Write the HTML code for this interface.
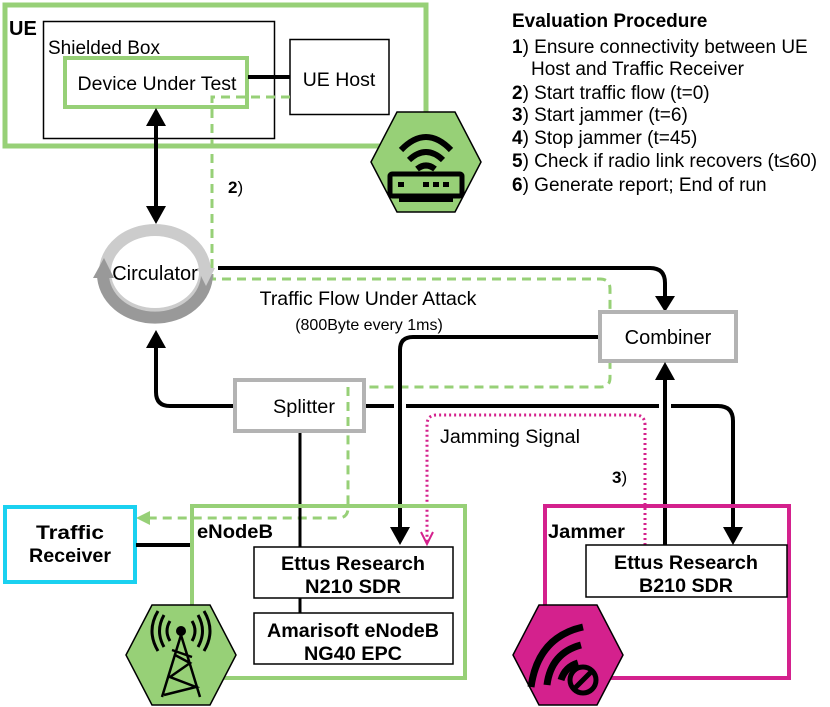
<!DOCTYPE html>
<html><head><meta charset="utf-8"><style>
body{margin:0;background:#fff}
svg{display:block;font-family:"Liberation Sans",sans-serif}
</style></head><body>
<svg width="830" height="707" viewBox="0 0 830 707">
<!-- UE -->
<rect x="5" y="5" width="421" height="141" fill="none" stroke="#97d077" stroke-width="5"/>
<text x="9" y="35" font-size="20" font-weight="bold">UE</text>
<rect x="43.5" y="21.5" width="231" height="117" fill="none" stroke="#000" stroke-width="1.5"/>
<text x="48" y="54" font-size="19">Shielded Box</text>
<rect x="65" y="58" width="182" height="49" fill="#fff" stroke="#97d077" stroke-width="4"/>
<text x="157" y="90" font-size="19.5" text-anchor="middle">Device Under Test</text>
<rect x="290" y="39.5" width="99" height="75" fill="#fff" stroke="#000" stroke-width="1.5"/>
<text x="339" y="86" font-size="19.5" text-anchor="middle">UE Host</text>
<line x1="248" y1="77" x2="290" y2="77" stroke="#000" stroke-width="4"/>
<!-- green dashed -->
<path d="M290,97 H212 V279 H600 Q610,279 610,289 V378 Q610,387 600,387 H358 Q348,387 348,397 V508 Q348,518 338,518 H148" fill="none" stroke="#97d077" stroke-width="3" stroke-dasharray="9,6"/>
<path d="M136,518 L150,511 L150,525z" fill="#97d077"/>
<text x="228" y="193" font-size="17" font-weight="bold">2<tspan font-weight="normal">)</tspan></text>
<!-- double arrow -->
<line x1="156" y1="120" x2="156" y2="212" stroke="#000" stroke-width="4"/>
<path d="M146,126 L156,108 L166,126z M146,206 L156,224 L166,206z" fill="#000"/>
<!-- circulator -->
<ellipse cx="155" cy="272" rx="50" ry="42" fill="none" stroke="#cccccc" stroke-width="12"/>
<path d="M103,274 A50,42 0 0 0 207,274" fill="none" stroke="#999" stroke-width="12"/>
<path d="M93,278 L104,258 L114,278z" fill="#999"/>
<path d="M197,268 L206,286 L215,268z" fill="#ccc"/>
<text x="155" y="280" font-size="20" text-anchor="middle">Circulator</text>
<text x="368" y="305" font-size="19.5" text-anchor="middle">Traffic Flow Under Attack</text>
<text x="369" y="330" font-size="16" text-anchor="middle">(800Byte every 1ms)</text>
<!-- black lines -->
<path d="M218,268 H650 Q665,268 665,283 V298" fill="none" stroke="#000" stroke-width="4"/>
<path d="M655,296 L665,312 L675,296z" fill="#000"/>
<rect x="600" y="312" width="136" height="49" fill="#fff" stroke="#b3b3b3" stroke-width="4"/>
<text x="668" y="344" font-size="20" text-anchor="middle">Combiner</text>
<path d="M598,337 H413 Q400,337 400,350 V530" fill="none" stroke="#000" stroke-width="4"/>
<path d="M390,527 L400,545 L410,527z" fill="#000"/>
<path d="M235,406 H170 Q156,406 156,392 V346" fill="none" stroke="#000" stroke-width="4"/>
<path d="M146,348 L156,330 L166,348z" fill="#000"/>
<path d="M365,406 H394 M406,406 H659 M671,406 H718 Q733,406 733,421 V530" fill="none" stroke="#000" stroke-width="4"/>
<path d="M723,527 L733,545 L743,527z" fill="#000"/>
<line x1="665" y1="545" x2="665" y2="378" stroke="#000" stroke-width="4"/>
<path d="M655,380 L665,362 L675,380z" fill="#000"/>
<line x1="300" y1="432" x2="300" y2="547" stroke="#000" stroke-width="3"/>
<rect x="235" y="380" width="129" height="51" fill="#fff" stroke="#b3b3b3" stroke-width="4"/>
<text x="304" y="413" font-size="19" text-anchor="middle" textLength="62" lengthAdjust="spacingAndGlyphs">Splitter</text>
<line x1="348" y1="387" x2="348" y2="431" stroke="#97d077" stroke-width="3" stroke-dasharray="9,6"/>
<!-- pink dotted -->
<path d="M645,545 V425 Q645,415 635,415 H437 Q427,415 427,425 V542" fill="none" stroke="#d4218d" stroke-width="3" stroke-dasharray="2,3"/>
<path d="M421,532 L427,544 L433,532" fill="none" stroke="#d4218d" stroke-width="2"/>
<text x="440" y="443" font-size="19" textLength="140" lengthAdjust="spacingAndGlyphs">Jamming Signal</text>
<text x="612" y="483" font-size="17" font-weight="bold">3<tspan font-weight="normal">)</tspan></text>
<!-- traffic receiver -->
<rect x="5" y="507" width="130" height="75" fill="#fff" stroke="#1ad1f0" stroke-width="4"/>
<text x="70" y="539" font-size="19.5" font-weight="bold" text-anchor="middle" textLength="68" lengthAdjust="spacingAndGlyphs">Traffic</text>
<text x="70" y="562" font-size="19.5" font-weight="bold" text-anchor="middle" textLength="82" lengthAdjust="spacingAndGlyphs">Receiver</text>
<line x1="136" y1="545" x2="190" y2="545" stroke="#000" stroke-width="4"/>
<!-- eNodeB -->
<rect x="192" y="506" width="273" height="172" fill="none" stroke="#97d077" stroke-width="4"/>
<text x="197" y="538" font-size="19" font-weight="bold" textLength="76" lengthAdjust="spacingAndGlyphs">eNodeB</text>
<rect x="254" y="547" width="199" height="51" fill="#fff" stroke="#000" stroke-width="1.5"/>
<text x="353" y="570" font-size="19" font-weight="bold" text-anchor="middle" textLength="144" lengthAdjust="spacingAndGlyphs">Ettus Research</text>
<text x="353" y="593" font-size="19" font-weight="bold" text-anchor="middle" textLength="96" lengthAdjust="spacingAndGlyphs">N210 SDR</text>
<line x1="300" y1="598" x2="300" y2="613" stroke="#000" stroke-width="3"/>
<rect x="254" y="613" width="199" height="51" fill="#fff" stroke="#000" stroke-width="1.5"/>
<text x="353" y="637" font-size="19" font-weight="bold" text-anchor="middle" textLength="172" lengthAdjust="spacingAndGlyphs">Amarisoft eNodeB</text>
<text x="353" y="660" font-size="19" font-weight="bold" text-anchor="middle" textLength="98" lengthAdjust="spacingAndGlyphs">NG40 EPC</text>
<!-- Jammer -->
<rect x="545" y="506" width="244" height="172" fill="none" stroke="#d4218d" stroke-width="4"/>
<text x="548" y="538" font-size="19" font-weight="bold" textLength="77" lengthAdjust="spacingAndGlyphs">Jammer</text>
<rect x="586" y="545" width="201" height="52" fill="#fff" stroke="#000" stroke-width="1.5"/>
<text x="686" y="569" font-size="19" font-weight="bold" text-anchor="middle" textLength="144" lengthAdjust="spacingAndGlyphs">Ettus Research</text>
<text x="686" y="592" font-size="19" font-weight="bold" text-anchor="middle" textLength="94" lengthAdjust="spacingAndGlyphs">B210 SDR</text>
<!-- hexagons -->
<g transform="translate(371,112)">
<path d="M0,50 L26,0 L84,0 L110,50 L84,100 L26,100z" fill="#97d077" stroke="#000" stroke-width="1.5"/>
<path d="M30,38 Q55,12 80,38 M38,48 Q55,32 72,48 M46,57 Q55,50 64,57" fill="none" stroke="#000" stroke-width="6"/>
<rect x="19" y="62" width="72" height="22" rx="2" fill="none" stroke="#000" stroke-width="5"/>
<rect x="27" y="70" width="6" height="5"/><rect x="52" y="70" width="6" height="5"/><rect x="62" y="70" width="6" height="5"/><rect x="72" y="70" width="6" height="5"/>
<rect x="28" y="84" width="54" height="6"/>
</g>
<g transform="translate(126,605)">
<path d="M0,50 L26,0 L84,0 L110,50 L84,100 L26,100z" fill="#97d077" stroke="#000" stroke-width="1.5"/>
<circle cx="55" cy="26" r="5"/>
<path d="M44,16 Q38,26 44,36 M66,16 Q72,26 66,36 M38,10 Q29,26 38,42 M72,10 Q81,26 72,42 M32,6 Q20,26 32,46 M78,6 Q90,26 78,46" fill="none" stroke="#000" stroke-width="3"/>
<path d="M55,30 L36,92 M55,30 L74,92 M49,50 L64,58 L44,72 L70,82 L38,90 M46,45 L66,52" fill="none" stroke="#000" stroke-width="2.5"/>
</g>
<g transform="translate(513,605)">
<path d="M0,50 L26,0 L84,0 L110,50 L84,100 L26,100z" fill="#d4218d" stroke="#000" stroke-width="1.5"/>
<path d="M18,82 Q25,32 70,22 M34,80 Q38,48 68,40 M48,75 Q52,62 65,58" fill="none" stroke="#000" stroke-width="7"/>
<circle cx="70" cy="75" r="13" fill="none" stroke="#000" stroke-width="5"/>
<line x1="61" y1="84" x2="79" y2="66" stroke="#000" stroke-width="5"/>
</g>
<!-- Evaluation -->
<g font-size="19">
<text x="512" y="27" font-weight="bold">Evaluation Procedure</text>
<text x="512" y="53"><tspan font-weight="bold">1</tspan>) Ensure connectivity between UE</text>
<text x="531" y="75">Host and Traffic Receiver</text>
<text x="512" y="99"><tspan font-weight="bold">2</tspan>) Start traffic flow (t=0)</text>
<text x="512" y="121"><tspan font-weight="bold">3</tspan>) Start jammer (t=6)</text>
<text x="512" y="144"><tspan font-weight="bold">4</tspan>) Stop jammer (t=45)</text>
<text x="512" y="167"><tspan font-weight="bold">5</tspan>) Check if radio link recovers (t≤60)</text>
<text x="512" y="191"><tspan font-weight="bold">6</tspan>) Generate report; End of run</text>
</g>
</svg>
</body></html>
